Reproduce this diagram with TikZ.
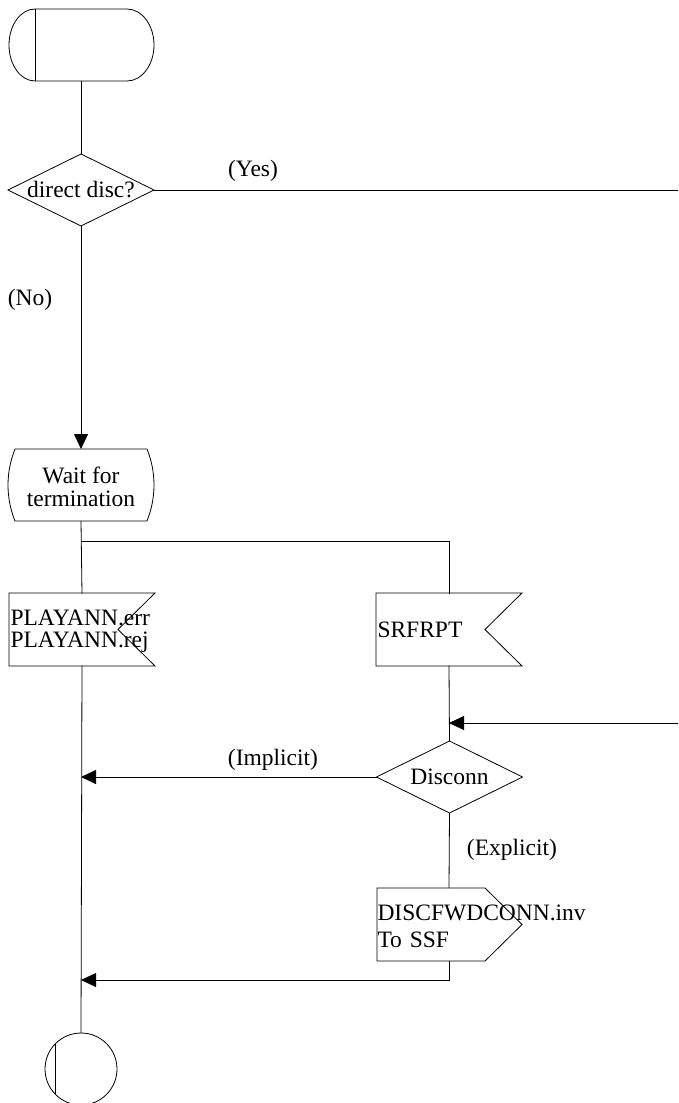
\documentclass[tikz,border=0pt]{standalone}
\usepackage{fontspec}
\setmainfont{Liberation Serif}
\usetikzlibrary{arrows.meta}
\begin{document}
\begin{tikzpicture}[x=1pt,y=1pt,line width=0.8pt,
  txt/.style={font=\fontsize{23.5}{22.5}\selectfont},
  shapebox/.style={minimum width=146pt,minimum height=72pt,inner sep=0pt,outer sep=0pt,txt},
  sigbox/.style={shapebox,align=left,text width=143pt},
  lbl/.style={txt,inner sep=0pt},
  arr/.style={-{Triangle[length=15pt,width=14pt]}}]
\useasboundingbox (0,0) rectangle (678,-1103);

% start symbol
\node[shapebox] (start) at (81,-45) {};
\draw (35,-9) -- (127,-9) arc[start angle=90,end angle=-90,x radius=27pt,y radius=36pt]
      -- (35,-81) arc[start angle=270,end angle=90,x radius=26pt,y radius=36pt] -- cycle;
\draw (35,-9) -- (35,-81);

% decision: direct disc?
\node[shapebox] (q1) at (81,-190) {direct disc?};
\draw (q1.north) -- (q1.east) -- (q1.south) -- (q1.west) -- cycle;

% state: wait for termination
\node[shapebox,align=center] (wait) at (81,-485) {\rule{0pt}{20pt}Wait for\\termination};
\draw (15,-449) -- (147,-449) arc[start angle=22,end angle=-22,radius=96pt]
      -- (15,-521) arc[start angle=202,end angle=158,radius=96pt] -- cycle;

% input signals
\node[sigbox] (pla) at (82,-629.5) {\rule{0pt}{19pt}PLAYANN.err\\PLAYANN.rej};
\draw (9,-593) -- (155,-593) -- (118,-629.5) -- (155,-666) -- (9,-666) -- cycle;
\node[sigbox] (srf) at (449,-629.5) {SRFRPT};
\draw (376,-593) -- (522,-593) -- (485,-629.5) -- (522,-666) -- (376,-666) -- cycle;

% decision: Disconn
\node[shapebox] (q2) at (449.5,-777) {Disconn};
\draw (q2.north) -- (q2.east) -- (q2.south) -- (q2.west) -- cycle;

% output signal
\node[sigbox,minimum height=73pt,font=\fontsize{23.5}{27}\selectfont] (out) at (449,-924.5)
  {\rule{0pt}{19pt}DISCFWDCONN.inv\\To SSF};
\draw (377,-888) -- (485,-888) -- (522,-924.5) -- (485,-961) -- (377,-961) -- cycle;

% stop symbol
\node[circle,draw,minimum size=72pt,inner sep=0pt,outer sep=0pt] (stop) at (81,-1069) {};
\draw ([shift={(-26pt,25pt)}]stop.center) -- ([shift={(-26pt,-25pt)}]stop.center);

% junction points
\coordinate (yes) at (678,-190);
\coordinate (split) at (81,-541);
\coordinate (in2) at (678,-723);
\coordinate (j2) at (449,-723);
\coordinate (j3) at (81,-777);
\coordinate (j4) at (81,-980);

% connectors
\draw (start.south) -- (q1.north);
\draw (q1.east) -- (yes);
\draw[arr] (q1.south) -- (wait.north);
\draw (wait.south) -- (pla.north);
\draw (split) -| (srf.north);
\draw (pla.south) -- (stop.north);
\draw (srf.south) -- (q2.north);
\draw[arr] (in2) -- (j2);
\draw[arr] (q2.west) -- (j3);
\draw (q2.south) -- (out.north);
\draw[arr] (out.south) |- (j4);

% branch labels
\node[lbl] (lyes) at (253,-171) {(Yes)};
\node[lbl] (lno) at (30,-300) {(No)};
\node[lbl] (limp) at (273,-760) {(Implicit)};
\node[lbl] (lexp) at (512,-850) {(Explicit)};
\end{tikzpicture}
\end{document}
